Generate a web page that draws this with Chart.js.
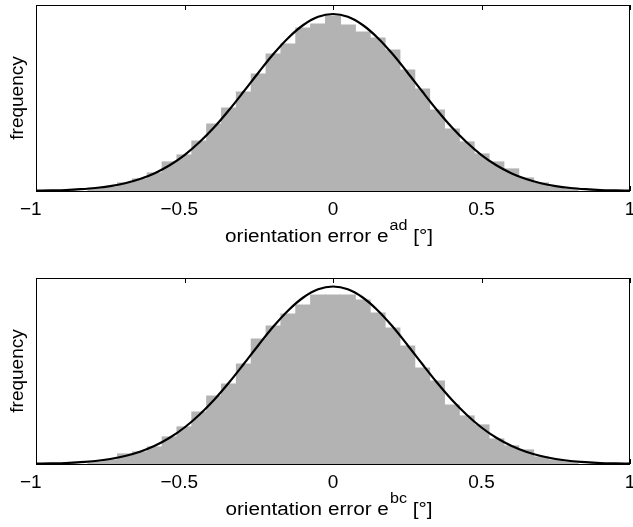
<!DOCTYPE html>
<html>
<head>
<meta charset="utf-8">
<script src="https://cdn.jsdelivr.net/npm/chart.js@4.4.1/dist/chart.umd.min.js"></script>
<style>
  body { margin: 0; background: #fff; }
  #wrap { position: relative; width: 633px; height: 527px; }
  canvas { position: absolute; left: 0; }
  #adChart { top: 0; }
  #bcChart { top: 270px; }
</style>
</head>
<body>
<div id="wrap">
  <canvas id="adChart" width="633" height="262"></canvas>
  <canvas id="bcChart" width="633" height="257"></canvas>
</div>
<script>
// histogram bin centres (bin width 0.05)
const binCenters = [-0.80, -0.75, -0.70, -0.65, -0.60, -0.55, -0.50, -0.45, -0.40, -0.35, -0.30,
  -0.25, -0.20, -0.15, -0.10, -0.05, 0.00, 0.05, 0.10, 0.15, 0.20, 0.25, 0.30, 0.35, 0.40,
  0.45, 0.50, 0.55, 0.60, 0.65, 0.70, 0.75, 0.80];

// frequencies, top panel (e^ad)
const adCounts = [2, 4, 8, 12, 18, 29, 36, 50, 67, 83, 99,
  117, 137, 147, 163, 167, 175, 166, 159, 153, 141, 121, 102, 81, 62,
  49, 37, 29, 22, 13, 8, 4, 2];

// frequencies, bottom panel (e^bc)
const bcCounts = [2, 4, 10, 12, 17, 27, 37, 52, 68, 80, 100,
  125, 138, 150, 159, 169, 169, 169, 164, 151, 136, 118, 96, 83, 59,
  48, 39, 25, 18, 14, 7, 4, 2];

// fitted curve
const fitX = [-1.00, -0.95, -0.90, -0.85, -0.80, -0.75, -0.70, -0.65, -0.60, -0.55, -0.50,
  -0.45, -0.40, -0.35, -0.30, -0.25, -0.20, -0.15, -0.10, -0.05, 0.00, 0.05, 0.10, 0.15, 0.20,
  0.25, 0.30, 0.35, 0.40, 0.45, 0.50, 0.55, 0.60, 0.65, 0.70, 0.75, 0.80, 0.85, 0.90, 0.95, 1.00];
const adFit = [0.3, 0.6, 1.0, 1.8, 3.0, 4.9, 7.8, 12.0, 17.8, 25.7, 35.9,
  48.7, 63.7, 81.0, 99.7, 118.8, 137.2, 153.3, 166.0, 174.2, 177.0, 174.2, 166.0, 153.3, 137.2,
  118.8, 99.7, 81.0, 63.7, 48.7, 35.9, 25.7, 17.8, 12.0, 7.8, 4.9, 3.0, 1.8, 1.0, 0.6, 0.3];
const bcFit = [0.3, 0.6, 1.0, 1.8, 3.0, 5.0, 8.0, 12.3, 18.2, 26.2, 36.5,
  49.3, 64.3, 81.5, 100.2, 119.3, 137.7, 153.8, 166.5, 174.7, 177.5, 174.7, 166.5, 153.8, 137.7,
  119.3, 100.2, 81.5, 64.3, 49.3, 36.5, 26.2, 18.2, 12.3, 8.0, 5.0, 3.0, 1.8, 1.0, 0.6, 0.3];

const xTicks = [-1, -0.5, 0, 0.5, 1];

const FONT = "'Liberation Sans', Arial, Helvetica, sans-serif";
Chart.defaults.font.family = FONT;
Chart.defaults.color = '#000';

// frame, inward ticks and the x label with a superscript
const matlabAxes = {
    id: 'matlabAxes',
    beforeDatasetsDraw(chart) {
        const { ctx, chartArea: a, scales: { x } } = chart;
        ctx.save();
        ctx.strokeStyle = '#000';
        ctx.lineWidth = 1;
        xTicks.forEach(v => {
            const px = Math.round(x.getPixelForValue(v)) + 0.5;
            ctx.beginPath();
            ctx.moveTo(px, a.top);
            ctx.lineTo(px, a.top + 5);
            ctx.moveTo(px, a.bottom);
            ctx.lineTo(px, a.bottom - 5);
            ctx.stroke();
        });
        ctx.restore();
    },
    afterDraw(chart, args, opts) {
        const { ctx, chartArea: a } = chart;
        ctx.save();
        ctx.strokeStyle = '#000';
        ctx.lineWidth = 1;
        ctx.strokeRect(Math.round(a.left) + 0.5, Math.round(a.top) + 0.5,
            Math.round(a.right - a.left) - 1, Math.round(a.bottom - a.top));

        // the label in the original is a little wider than the font, stretch it
        const sx = 1.15;
        const main = 'orientation error e';
        const tail = ' [°]';
        ctx.fillStyle = '#000';
        ctx.textBaseline = 'alphabetic';
        ctx.font = '18px ' + FONT;
        const w1 = ctx.measureText(main).width;
        const w3 = ctx.measureText(tail).width;
        ctx.font = '14px ' + FONT;
        const w2 = ctx.measureText(opts.sup).width + 1;
        const total = (w1 + w2 + w3) * sx;
        ctx.translate((a.left + a.right) / 2 - 4 - total / 2, a.bottom + 51);
        ctx.scale(sx, 1);
        ctx.font = '18px ' + FONT;
        ctx.fillText(main, 0, 0);
        ctx.font = '14px ' + FONT;
        ctx.fillText(opts.sup, w1 + 1, -12);
        ctx.font = '18px ' + FONT;
        ctx.fillText(tail, w1 + w2, 0);
        ctx.restore();
    }
};

function makeChart(id, counts, fit, sup, padTop, xHeight) {
    const ctx = document.getElementById(id).getContext('2d');
    return new Chart(ctx, {
        type: 'bar',
        data: {
            datasets: [
                {
                    type: 'line',
                    data: fitX.map((v, i) => ({ x: v, y: fit[i] })),
                    borderColor: '#000',
                    borderWidth: 2.2,
                    pointRadius: 0,
                    cubicInterpolationMode: 'monotone',
                    order: 0
                },
                {
                    type: 'bar',
                    data: binCenters.map((v, i) => ({ x: v, y: counts[i] })),
                    backgroundColor: '#b3b3b3',
                    borderWidth: 0,
                    inflateAmount: 0.6,
                    barPercentage: 1,
                    categoryPercentage: 1,
                    order: 1
                }
            ]
        },
        options: {
            responsive: false,
            animation: false,
            layout: { padding: { top: padTop, right: 3, left: 0, bottom: 0 } },
            plugins: {
                legend: { display: false },
                tooltip: { enabled: false },
                matlabAxes: { sup: sup }
            },
            scales: {
                x: {
                    type: 'linear',
                    min: -1,
                    max: 1,
                    offset: false,
                    afterBuildTicks: s => { s.ticks = xTicks.map(v => ({ value: v })); },
                    afterFit: s => { s.height = xHeight; s.paddingLeft = 0; s.paddingRight = 0; },
                    grid: { display: false, drawTicks: false, offset: false },
                    border: { display: false },
                    ticks: {
                        padding: 7,
                        maxRotation: 0,
                        font: { size: 19 },
                        // the minus sign hangs left of the centred number, as in the original
                        callback: v => v < 0 ? '\u2212' + String(-v) + '\u2007' : String(v)
                    }
                },
                y: {
                    min: 0,
                    max: 186,
                    afterFit: s => { s.width = 36; },
                    grid: { display: false, drawTicks: false },
                    border: { display: false },
                    ticks: { display: false },
                    title: {
                        display: true,
                        text: 'frequency',
                        font: { size: 19 },
                        padding: { top: 6, bottom: 0 }
                    }
                }
            }
        },
        plugins: [matlabAxes]
    });
}

makeChart('adChart', adCounts, adFit, 'ad', 5, 71);
makeChart('bcChart', bcCounts, bcFit, 'bc', 8, 63);
</script>
</body>
</html>
